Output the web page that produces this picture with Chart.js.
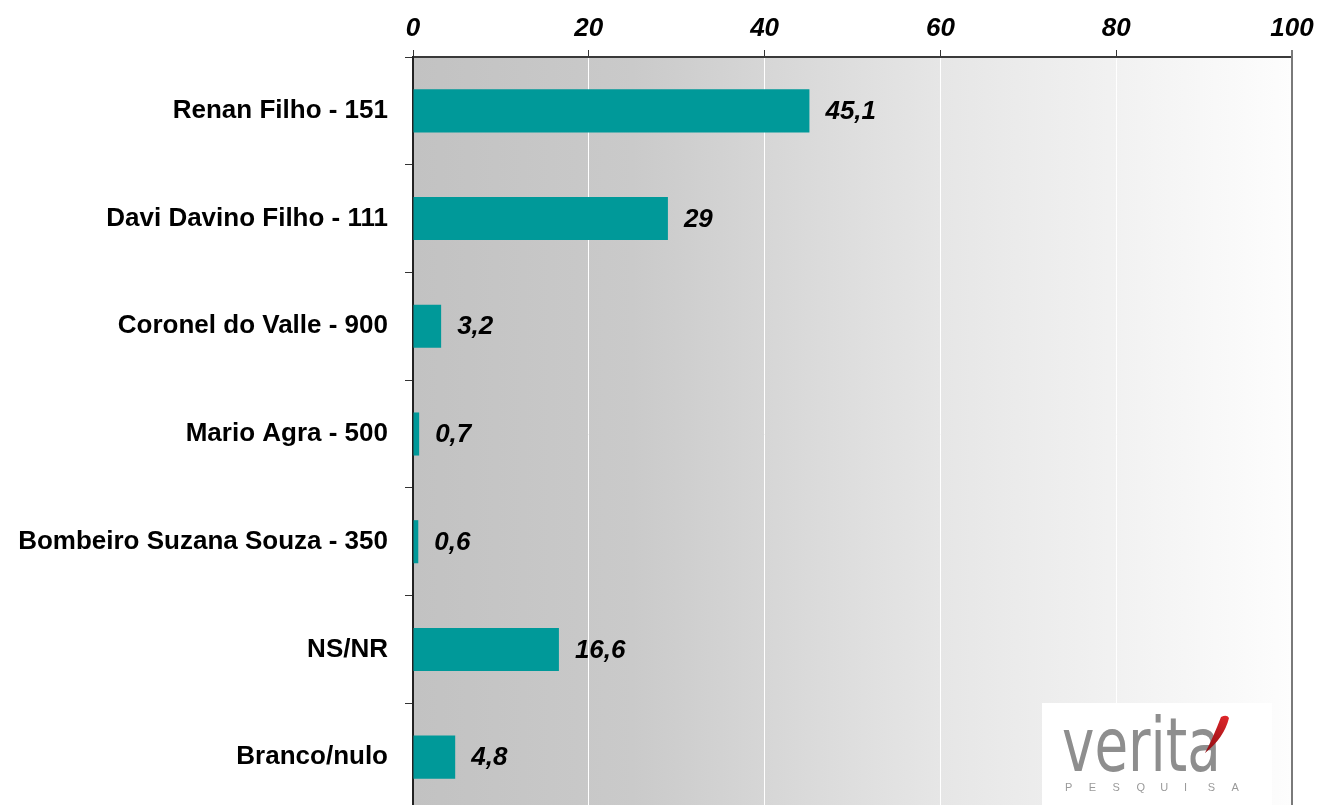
<!DOCTYPE html>
<html>
<head>
<meta charset="utf-8">
<script src="https://cdn.jsdelivr.net/npm/chart.js@4/dist/chart.umd.min.js"></script>
<style>
  html, body { margin: 0; padding: 0; background: #fff; overflow: hidden; }
  #wrap { width: 1318px; height: 820px; }
</style>
</head>
<body>
<div id="wrap"><canvas id="graph" width="1318" height="820"></canvas></div>
<script>
const candidates = ['Renan Filho - 151', 'Davi Davino Filho - 111', 'Coronel do Valle - 900',
  'Mario Agra - 500', 'Bombeiro Suzana Souza - 350', 'NS/NR', 'Branco/nulo'];
const percents = [45.1, 29, 3.2, 0.7, 0.6, 16.6, 4.8];
const xTicks = [0, 20, 40, 60, 80, 100];

const fmt = v => String(v).replace('.', ',');

// gradient behind the plot, right border, value labels and logo
const decor = {
  id: 'decor',
  beforeDraw(chart) {
    const {ctx, chartArea: a} = chart;
    const g = ctx.createLinearGradient(a.left, 0, a.right, 0);
    g.addColorStop(0, '#c2c2c2');
    g.addColorStop(0.25, '#cacaca');
    g.addColorStop(0.6, '#e6e6e6');
    g.addColorStop(1, '#fdfdfd');
    ctx.save();
    ctx.fillStyle = g;
    ctx.fillRect(a.left, a.top, a.right - a.left, a.bottom - a.top);
    ctx.restore();
  },
  afterDatasetsDraw(chart) {
    const {ctx, chartArea: a} = chart;
    const meta = chart.getDatasetMeta(0);
    ctx.save();
    ctx.font = 'italic bold 26px "Liberation Sans", Arial, sans-serif';
    ctx.fillStyle = '#000';
    ctx.textBaseline = 'middle';
    meta.data.forEach((bar, i) => {
      ctx.fillText(fmt(percents[i]), bar.x + 16, bar.y + 1);
    });
    // right border
    ctx.strokeStyle = '#7a7a7a';
    ctx.lineWidth = 2;
    ctx.beginPath();
    ctx.moveTo(a.right, a.top - 7);
    ctx.lineTo(a.right, a.bottom);
    ctx.stroke();
    // logo box
    ctx.fillStyle = '#ffffff';
    ctx.fillRect(1042, 703, 230, 120);
    ctx.save();
    ctx.translate(1062, 771);
    ctx.scale(0.74, 1);
    ctx.fillStyle = '#8e8e8e';
    ctx.font = '74px "DejaVu Sans", sans-serif';
    ctx.textBaseline = 'alphabetic';
    ctx.fillText('verita', 0, 0);
    ctx.restore();
    const rg = ctx.createLinearGradient(1228, 716, 1206, 752);
    rg.addColorStop(0, '#e0262a');
    rg.addColorStop(1, '#8e0d12');
    ctx.fillStyle = rg;
    ctx.beginPath();
    ctx.moveTo(1221, 717);
    ctx.quadraticCurveTo(1227, 714, 1229, 718);
    ctx.quadraticCurveTo(1224, 738, 1205, 753);
    ctx.quadraticCurveTo(1213, 738, 1221, 717);
    ctx.closePath();
    ctx.fill();
    ctx.fillStyle = '#9a9a9a';
    ctx.font = '11px "Liberation Sans", Arial, sans-serif';
    ctx.textBaseline = 'middle';
    'PESQUISA'.split('').forEach((c, i) => ctx.fillText(c, 1065 + i * 23.8, 788));
    ctx.restore();
  }
};

new Chart(document.getElementById('graph').getContext('2d'), {
  type: 'bar',
  data: {
    labels: candidates,
    datasets: [{
      data: percents,
      backgroundColor: '#009999',
      borderWidth: 0,
      categoryPercentage: 0.4,
      barPercentage: 1
    }]
  },
  options: {
    indexAxis: 'y',
    responsive: false,
    animation: false,
    layout: { padding: { left: 0, right: 26, top: 0, bottom: 9 } },
    plugins: { legend: { display: false }, tooltip: { enabled: false } },
    scales: {
      x: {
        position: 'top',
        min: 0,
        max: 100,
        afterBuildTicks(scale) { scale.ticks = xTicks.map(v => ({value: v})); },
        afterFit(scale) { scale.height = 57; scale.paddingLeft = 0; scale.paddingRight = 0; },
        ticks: {
          color: '#000',
          padding: 6,
          font: { family: '"Liberation Sans", Arial, sans-serif', size: 26, weight: 'bold', style: 'italic' }
        },
        grid: { color: '#ffffff', lineWidth: 1, tickLength: 7, tickColor: '#333' },
        border: { display: true, color: '#3a3a3a', width: 2 }
      },
      y: {
        afterFit(scale) { scale.width = 413; scale.paddingTop = 0; scale.paddingBottom = 0; },
        ticks: {
          color: '#000',
          padding: 17,
          font: { family: '"Liberation Sans", Arial, sans-serif', size: 26, weight: 'bold' }
        },
        grid: { offset: true, drawOnChartArea: false, tickLength: 8, color: '#333' },
        border: { display: true, color: '#222', width: 2 }
      }
    }
  },
  plugins: [decor]
});
</script>
</body>
</html>
